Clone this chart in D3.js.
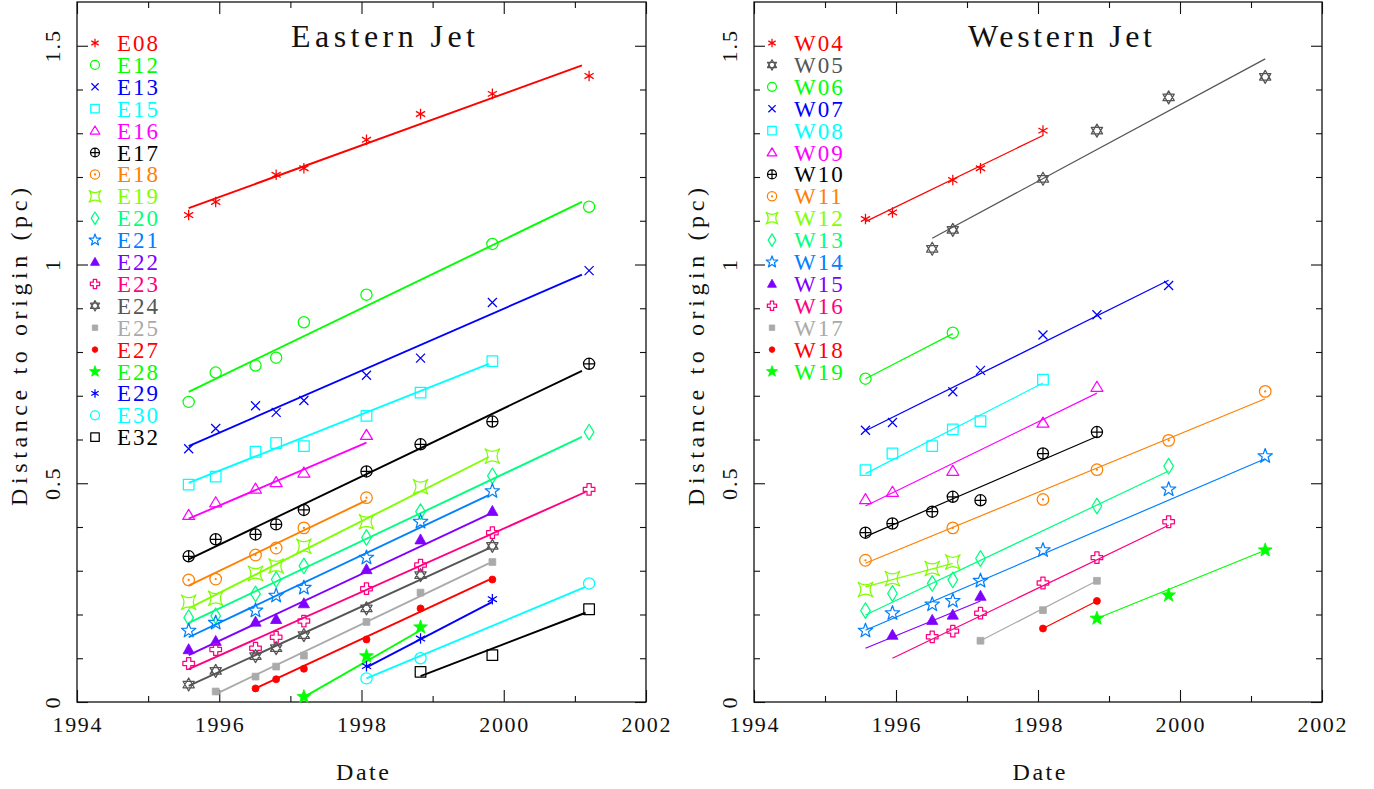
<!DOCTYPE html>
<html>
<head>
<meta charset="utf-8">
<script src="https://cdn.jsdelivr.net/npm/d3@7"></script>
<style>
  html, body { margin: 0; padding: 0; background: #fff; }
  svg { display: block; }
</style>
</head>
<body>
<svg id="chart" width="1374" height="789"></svg>
<script>
(function () {
  "use strict";

  const FONT = "'Liberation Serif', 'DejaVu Serif', 'Times New Roman', serif";

  // observing epochs (decimal year)
  const EPOCHS = [1995.57, 1995.95, 1996.51, 1996.80, 1997.19, 1998.07, 1998.83, 1999.84, 2001.20];

  const xTickLabels = [1994, 1996, 1998, 2000, 2002];
  const xMinorTicks = [1995, 1997, 1999, 2001];
  const yTickLabels = [0, 0.5, 1, 1.5];

  // Eastern jet components
  const eastNames = ["E08", "E12", "E13", "E15", "E16", "E17", "E18", "E19", "E20", "E21",
    "E22", "E23", "E24", "E25", "E27", "E28", "E29", "E30", "E32"];
  const eastEpochs = [
    [0, 1, 3, 4, 5, 6, 7, 8],
    [0, 1, 2, 3, 4, 5, 7, 8],
    [0, 1, 2, 3, 4, 5, 6, 7, 8],
    [0, 1, 2, 3, 4, 5, 6, 7],
    [0, 1, 2, 3, 4, 5],
    [0, 1, 2, 3, 4, 5, 6, 7, 8],
    [0, 1, 2, 3, 4, 5],
    [0, 1, 2, 3, 4, 5, 6, 7],
    [0, 1, 2, 3, 4, 5, 6, 7, 8],
    [0, 1, 2, 3, 4, 5, 6, 7],
    [0, 1, 2, 3, 4, 5, 6, 7],
    [0, 1, 2, 3, 4, 5, 6, 7, 8],
    [0, 1, 2, 3, 4, 5, 6, 7],
    [1, 2, 3, 4, 5, 6, 7],
    [2, 3, 4, 5, 6, 7],
    [4, 5, 6],
    [5, 6, 7],
    [5, 6, 8],
    [6, 7, 8]
  ];
  const eastDist = [
    [1.113, 1.143, 1.205, 1.220, 1.285, 1.344, 1.390, 1.431],
    [0.686, 0.753, 0.769, 0.787, 0.868, 0.931, 1.047, 1.132],
    [0.579, 0.625, 0.677, 0.662, 0.689, 0.747, 0.786, 0.913, 0.986],
    [0.497, 0.515, 0.572, 0.592, 0.585, 0.654, 0.707, 0.779],
    [0.427, 0.456, 0.487, 0.502, 0.524, 0.610],
    [0.333, 0.372, 0.383, 0.406, 0.439, 0.527, 0.589, 0.641, 0.773],
    [0.279, 0.281, 0.336, 0.352, 0.398, 0.467],
    [0.228, 0.237, 0.294, 0.311, 0.356, 0.412, 0.492, 0.562],
    [0.193, 0.197, 0.247, 0.280, 0.311, 0.376, 0.435, 0.517, 0.617],
    [0.163, 0.181, 0.209, 0.243, 0.261, 0.330, 0.412, 0.482],
    [0.120, 0.139, 0.183, 0.189, 0.225, 0.303, 0.371, 0.436],
    [0.088, 0.120, 0.123, 0.148, 0.185, 0.259, 0.313, 0.387, 0.486],
    [0.040, 0.071, 0.105, 0.123, 0.153, 0.214, 0.290, 0.357],
    [0.024, 0.058, 0.081, 0.106, 0.183, 0.250, 0.320],
    [0.031, 0.052, 0.076, 0.143, 0.214, 0.280],
    [0.012, 0.105, 0.171],
    [0.082, 0.145, 0.235],
    [0.054, 0.100, 0.271],
    [0.069, 0.107, 0.212]
  ];
  // linear fits: [startDate, startDist, endDate, endDist]
  const eastFits = [
    [1995.57, 1.129, 2001.10, 1.455],
    [1995.57, 0.709, 2001.10, 1.143],
    [1995.57, 0.585, 2001.10, 0.977],
    [1995.57, 0.501, 1999.79, 0.773],
    [1995.57, 0.419, 1998.07, 0.593],
    [1995.57, 0.326, 2001.10, 0.757],
    [1995.57, 0.266, 1998.07, 0.461],
    [1995.57, 0.214, 1999.79, 0.560],
    [1995.57, 0.181, 2001.10, 0.606],
    [1995.57, 0.148, 1999.79, 0.473],
    [1995.57, 0.107, 1999.79, 0.429],
    [1995.57, 0.075, 2001.15, 0.480],
    [1995.57, 0.037, 1999.79, 0.351],
    [1995.95, 0.018, 1999.79, 0.317],
    [1996.51, 0.031, 1999.79, 0.279],
    [1997.19, 0.011, 1998.83, 0.164],
    [1998.07, 0.079, 1999.84, 0.229],
    [1998.07, 0.054, 2001.15, 0.263],
    [1998.83, 0.059, 2001.15, 0.204]
  ];

  // Western jet components
  const westNames = ["W04", "W05", "W06", "W07", "W08", "W09", "W10", "W11", "W12", "W13",
    "W14", "W15", "W16", "W17", "W18", "W19"];
  const westEpochs = [
    [0, 1, 3, 4, 5],
    [2, 3, 5, 6, 7, 8],
    [0, 3],
    [0, 1, 3, 4, 5, 6, 7],
    [0, 1, 2, 3, 4, 5],
    [0, 1, 3, 5, 6],
    [0, 1, 2, 3, 4, 5, 6],
    [0, 3, 5, 6, 7, 8],
    [0, 1, 2, 3],
    [0, 1, 2, 3, 4, 6, 7],
    [0, 1, 2, 3, 4, 5, 7, 8],
    [1, 2, 3, 4],
    [2, 3, 4, 5, 6, 7],
    [4, 5, 6],
    [5, 6],
    [6, 7, 8]
  ];
  const westDist = [
    [1.104, 1.119, 1.193, 1.220, 1.306],
    [1.036, 1.079, 1.196, 1.306, 1.382, 1.429],
    [0.739, 0.844],
    [0.621, 0.639, 0.709, 0.758, 0.839, 0.885, 0.952],
    [0.530, 0.568, 0.585, 0.623, 0.642, 0.737],
    [0.463, 0.480, 0.528, 0.638, 0.720],
    [0.387, 0.408, 0.435, 0.469, 0.461, 0.568, 0.617],
    [0.324, 0.398, 0.463, 0.531, 0.598, 0.710],
    [0.257, 0.282, 0.305, 0.320],
    [0.209, 0.248, 0.271, 0.279, 0.328, 0.448, 0.539],
    [0.163, 0.203, 0.223, 0.231, 0.277, 0.347, 0.486, 0.562],
    [0.153, 0.187, 0.199, 0.242],
    [0.149, 0.162, 0.203, 0.272, 0.330, 0.412],
    [0.140, 0.210, 0.277],
    [0.168, 0.231],
    [0.191, 0.244, 0.347]
  ];
  const westFits = [
    [1995.57, 1.098, 1998.07, 1.295],
    [1996.51, 1.060, 2001.20, 1.470],
    [1995.57, 0.739, 1996.80, 0.842],
    [1995.57, 0.620, 1999.84, 0.964],
    [1995.57, 0.522, 1998.07, 0.729],
    [1995.57, 0.448, 1998.83, 0.706],
    [1995.57, 0.378, 1998.83, 0.607],
    [1995.57, 0.317, 2001.20, 0.693],
    [1995.57, 0.263, 1996.80, 0.317],
    [1995.57, 0.199, 1999.84, 0.528],
    [1995.57, 0.164, 2001.20, 0.556],
    [1995.57, 0.123, 1997.19, 0.231],
    [1995.95, 0.100, 1999.84, 0.404],
    [1997.19, 0.140, 1998.83, 0.277],
    [1998.07, 0.168, 1998.83, 0.231],
    [1998.83, 0.191, 2001.20, 0.347]
  ];

  // styles (PGPLOT colour indices and markers)
  const eastColors = ["#ff0000", "#00ff00", "#0000ff", "#00ffff", "#ff00ff", "#000000", "#ff8000",
    "#80ff00", "#00ff80", "#0080ff", "#8000ff", "#ff0080", "#555555", "#aaaaaa",
    "#ff0000", "#00ff00", "#0000ff", "#00ffff", "#000000"];
  const eastMarkers = ["ast", "circle", "x", "square", "tri", "oplus", "odot", "csquare", "diamond",
    "star", "ftri", "gcross", "david", "fsquare", "fcircle", "fstar", "ast", "circle", "square"];
  const westColors = ["#ff0000", "#555555", "#00ff00", "#0000ff", "#00ffff", "#ff00ff", "#000000",
    "#ff8000", "#80ff00", "#00ff80", "#0080ff", "#8000ff", "#ff0080", "#aaaaaa", "#ff0000", "#00ff00"];
  const westMarkers = ["ast", "david", "circle", "x", "square", "tri", "oplus", "odot", "csquare",
    "diamond", "star", "ftri", "gcross", "fsquare", "fcircle", "fstar"];

  const svg = d3.select("#chart");

  function circlePath(r) {
    return `M${r},0A${r},${r} 0 1,1 ${-r},0A${r},${r} 0 1,1 ${r},0Z`;
  }

  function starPath(ro, ri) {
    const pts = d3.range(10).map(i => {
      const a = -Math.PI / 2 + i * Math.PI / 5;
      const r = i % 2 ? ri : ro;
      return [(r * Math.cos(a)).toFixed(2), (r * Math.sin(a)).toFixed(2)];
    });
    return "M" + pts.map(p => p.join(",")).join("L") + "Z";
  }

  function marker(type, s) {
    const f = v => +(v * s).toFixed(2);
    switch (type) {
      case "ast": {
        const r = f(5.3), c = f(5.3 * 0.866), h = f(2.65);
        return { d: `M0,${-r}V${r}M${-c},${-h}L${c},${h}M${-c},${h}L${c},${-h}`, fill: false };
      }
      case "circle": return { d: circlePath(f(5.6)), fill: false };
      case "x": {
        const r = f(4.5);
        return { d: `M${-r},${-r}L${r},${r}M${-r},${r}L${r},${-r}`, fill: false };
      }
      case "square": {
        const h = f(5.3);
        return { d: `M${-h},${-h}H${h}V${h}H${-h}Z`, fill: false };
      }
      case "tri": return { d: `M0,${f(-5.8)}L${f(6)},${f(4.3)}L${f(-6)},${f(4.3)}Z`, fill: false };
      case "oplus": {
        const r = f(5.6);
        return { d: circlePath(r) + `M${-r},0H${r}M0,${-r}V${r}`, fill: false };
      }
      case "odot": return { d: circlePath(f(5.8)) + circlePath(0.5), fill: false };
      case "csquare": {
        const a = f(7.3), b = f(2);
        return { d: `M${-a},${-a}Q0,${-b} ${a},${-a}Q${b},0 ${a},${a}Q0,${b} ${-a},${a}Q${-b},0 ${-a},${-a}Z`, fill: false };
      }
      case "diamond": return { d: `M0,${f(-7.8)}L${f(4.8)},0L0,${f(7.8)}L${f(-4.8)},0Z`, fill: false };
      case "star": return { d: starPath(f(7.6), f(3.1)), fill: false };
      case "ftri": return { d: `M0,${f(-5.8)}L${f(5.6)},${f(4.2)}L${f(-5.6)},${f(4.2)}Z`, fill: true };
      case "gcross": {
        const w = f(2.1), e = f(5.8);
        return { d: `M${-w},${-e}H${w}V${-w}H${e}V${w}H${w}V${e}H${-w}V${w}H${-e}V${-w}H${-w}Z`, fill: false };
      }
      case "david": {
        const r = f(6.5);
        const tri = off => "M" + [0, 1, 2].map(i => {
          const a = off + i * 2 * Math.PI / 3;
          return [(r * Math.cos(a)).toFixed(2), (r * Math.sin(a)).toFixed(2)].join(",");
        }).join("L") + "Z";
        return { d: tri(-Math.PI / 2) + tri(Math.PI / 2), fill: false };
      }
      case "fsquare": {
        const h = f(3.4);
        return { d: `M${-h},${-h}H${h}V${h}H${-h}Z`, fill: true };
      }
      case "fcircle": return { d: circlePath(f(3.5)), fill: true };
      case "fstar": return { d: starPath(f(7.3), f(3)), fill: true };
    }
    return { d: "", fill: false };
  }

  function drawMarker(g, type, color, s, cx, cy) {
    const m = marker(type, s);
    g.append("path")
      .attr("d", m.d)
      .attr("transform", `translate(${cx},${cy})`)
      .attr("fill", m.fill ? color : "none")
      .attr("stroke", color)
      .attr("stroke-width", m.fill ? 0.8 : 1.25)
      .attr("stroke-linejoin", "round");
  }

  function label(g) {
    return g.append("text").attr("font-family", FONT).attr("fill", "#111");
  }

  function drawPanel(p) {
    const x = d3.scaleLinear().domain([1994, 2002]).range([p.x0, p.x1]);
    const y = d3.scaleLinear().domain([0, 1.6]).range([702, 2]);
    const g = svg.append("g");

    // ticks on all four sides, pointing inward
    const noDomain = a => a.select(".domain").remove();
    const yMajor = [0, 0.5, 1, 1.5];
    const yMinor = d3.range(1, 16).map(i => i / 10).filter(v => Math.abs(v * 2 - Math.round(v * 2)) > 1e-6);
    [
      [d3.axisBottom(x), `translate(0,${y(0)})`, xTickLabels, 12],
      [d3.axisBottom(x), `translate(0,${y(0)})`, xMinorTicks, 6],
      [d3.axisTop(x), `translate(0,${y(1.6)})`, xTickLabels, 12],
      [d3.axisTop(x), `translate(0,${y(1.6)})`, xMinorTicks, 6],
      [d3.axisLeft(y), `translate(${p.x0},0)`, yMajor, 11],
      [d3.axisLeft(y), `translate(${p.x0},0)`, yMinor, 6],
      [d3.axisRight(y), `translate(${p.x1},0)`, yMajor, 11],
      [d3.axisRight(y), `translate(${p.x1},0)`, yMinor, 6]
    ].forEach(([axis, tr, vals, len]) => {
      g.append("g")
        .attr("transform", tr)
        .call(axis.tickValues(vals).tickSize(-len).tickFormat(""))
        .call(noDomain)
        .selectAll("line").attr("stroke", "#111").attr("stroke-width", 1.1);
    });

    g.append("rect")
      .attr("x", p.x0).attr("y", y(1.6))
      .attr("width", p.x1 - p.x0).attr("height", y(0) - y(1.6))
      .attr("fill", "none").attr("stroke", "#111").attr("stroke-width", 1.3);

    // tick labels
    xTickLabels.forEach(d => {
      label(g)
        .attr("x", x(d)).attr("y", 732)
        .attr("text-anchor", "middle").attr("font-size", 22)
        .attr("textLength", 49).attr("lengthAdjust", "spacing")
        .text(d);
    });
    yTickLabels.forEach(d => {
      label(g)
        .attr("transform", `translate(${p.x0 - 17},${y(d)}) rotate(-90)`)
        .attr("text-anchor", "middle").attr("font-size", 22)
        .attr("letter-spacing", "2px")
        .text(d);
    });

    // axis titles
    label(g)
      .attr("x", (p.x0 + p.x1) / 2 + 1).attr("y", 780)
      .attr("text-anchor", "middle").attr("font-size", 24)
      .attr("textLength", 53).attr("lengthAdjust", "spacing")
      .text("Date");
    label(g)
      .attr("transform", `translate(${p.x0 - 50},347) rotate(-90)`)
      .attr("text-anchor", "middle").attr("font-size", 24)
      .attr("textLength", 318).attr("lengthAdjust", "spacing")
      .text("Distance to origin (pc)");
    label(g)
      .attr("x", p.x0 + 306).attr("y", 47)
      .attr("text-anchor", "middle").attr("font-size", 32)
      .attr("textLength", 184).attr("lengthAdjust", "spacing")
      .text(p.title);

    // fits and data points
    p.names.forEach((name, i) => {
      const color = p.colors[i];
      const fit = p.fits[i];
      const cg = g.append("g").attr("class", "component");
      cg.append("line")
        .attr("x1", x(fit[0])).attr("y1", y(fit[1]))
        .attr("x2", x(fit[2])).attr("y2", y(fit[3]))
        .attr("stroke", color).attr("stroke-width", p.lineWidth);
      p.epochs[i].forEach((e, j) => {
        drawMarker(cg, p.markers[i], color, 1, x(EPOCHS[e]), y(p.dist[i][j]));
      });
    });

    // legend
    p.names.forEach((name, i) => {
      const cy = 43 + i * 21.9;
      drawMarker(g, p.markers[i], p.colors[i], 0.8, p.x0 + 18, cy);
      label(g)
        .attr("x", p.x0 + 40).attr("y", cy + 8)
        .attr("font-size", 23).attr("letter-spacing", "2px")
        .attr("fill", p.colors[i])
        .text(name);
    });
  }

  drawPanel({
    x0: 77, x1: 646, title: "Eastern Jet", lineWidth: 1.9,
    names: eastNames, epochs: eastEpochs, dist: eastDist, fits: eastFits,
    colors: eastColors, markers: eastMarkers
  });
  drawPanel({
    x0: 754, x1: 1322, title: "Western Jet", lineWidth: 1.2,
    names: westNames, epochs: westEpochs, dist: westDist, fits: westFits,
    colors: westColors, markers: westMarkers
  });
})();
</script>
</body>
</html>
